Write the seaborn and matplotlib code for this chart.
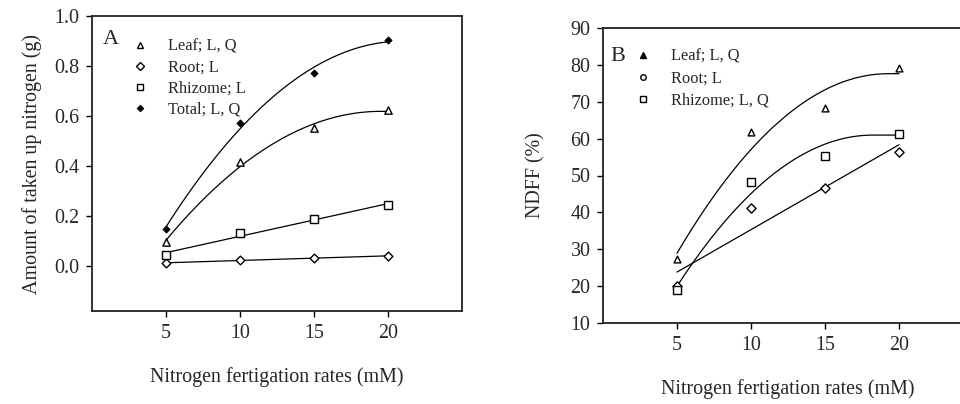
import numpy as np
import pandas as pd
import matplotlib
matplotlib.use("Agg")
import matplotlib.pyplot as plt
from matplotlib.lines import Line2D
import seaborn as sns

sns.set_theme(style="white")
plt.rcParams["font.family"] = ["Liberation Serif", "DejaVu Serif"]

# Nitrogen fertigation rates (mM)
rates = [5, 10, 15, 20]

# Panel A: amount of taken up nitrogen (g)
a_leaf = [0.097, 0.415, 0.551, 0.624]
a_root = [0.011, 0.024, 0.033, 0.039]
a_rhizome = [0.044, 0.131, 0.188, 0.243]
a_total = [0.149, 0.571, 0.773, 0.904]
a_labels = ["Leaf; L, Q", "Root; L", "Rhizome; L", "Total; L, Q"]

# Panel B: NDFF (%)
b_leaf = [27.3, 61.9, 68.4, 79.1]
b_root = [20.0, 41.1, 46.7, 56.5]
b_rhizome = [18.9, 48.3, 55.3, 61.3]
b_labels = ["Leaf; L, Q", "Root; L", "Rhizome; L, Q"]

a_yticks = [0.0, 0.2, 0.4, 0.6, 0.8, 1.0]
b_yticks = [10, 20, 30, 40, 50, 60, 70, 80, 90]

TICK_FS = 14.4
LEG_FS = 11.8


def fit_curve(x, y, deg, plateau=False, gap=None):
    """Polynomial regression drawn over 5-20 mM; optionally held at its maximum."""
    xs = np.linspace(min(x), max(x), 300)
    ys = np.polyval(np.polyfit(x, y, deg), xs)
    if plateau:
        ys = np.maximum.accumulate(ys)
    ys = ys.astype(float)
    if gap is not None:
        ys[(xs > gap[0]) & (xs < gap[1])] = np.nan
    return pd.DataFrame({"x": xs, "y": ys})


def style_axes(ax, ylim, yticks, ylabel, fmt, ylabelpad):
    ax.set_xlim(0, 25)
    ax.set_ylim(*ylim)
    ax.set_xticks(rates)
    ax.set_xticklabels([str(r) for r in rates], fontsize=TICK_FS)
    ax.set_yticks(yticks)
    ax.set_yticklabels([fmt(v) for v in yticks], fontsize=TICK_FS)
    ax.tick_params(axis="both", direction="out", length=4, width=1,
                   left=True, bottom=True, color="black", pad=5)
    for sp in ax.spines.values():
        sp.set_color("#222222")
        sp.set_linewidth(1.3)
        sp.set_visible(True)
    ax.set_xlabel("Nitrogen fertigation rates (mM)", fontsize=TICK_FS, labelpad=18)
    ax.set_ylabel(ylabel, fontsize=TICK_FS, labelpad=ylabelpad)
    ax.grid(False)


fig = plt.figure(figsize=(9.6, 4.04), dpi=100)
axA = fig.add_axes([92 / 960, 93 / 404, 370 / 960, 295 / 404])
axB = fig.add_axes([603 / 960, 81 / 404, 370 / 960, 295 / 404])

line_kw = dict(color="black", linewidth=0.9, legend=False)
open_kw = dict(facecolor="white", edgecolor="black", linewidth=1.0, legend=False, zorder=3)

# ---- Panel A ----
for y, deg in [(a_leaf, 2), (a_root, 1), (a_rhizome, 1), (a_total, 2)]:
    sns.lineplot(data=fit_curve(rates, y, deg, plateau=(deg == 2)), x="x", y="y", ax=axA, **line_kw)

sns.scatterplot(x=rates, y=a_leaf, marker="^", s=28, ax=axA, **open_kw)
sns.scatterplot(x=rates, y=a_root, marker="D", s=20, ax=axA, **open_kw)
sns.scatterplot(x=rates, y=a_rhizome, marker="s", s=26, ax=axA, **open_kw)
sns.scatterplot(x=rates, y=a_total, marker="D", s=14, color="black", edgecolor="black",
                linewidth=0.5, legend=False, zorder=3, ax=axA)

style_axes(axA, (-0.18, 1.0), a_yticks, "Amount of taken up nitrogen (g)",
           lambda v: f"{v:.1f}", ylabelpad=9)

handlesA = [
    Line2D([], [], ls="none", marker="^", ms=4.5, mfc="white", mec="black", mew=1.0),
    Line2D([], [], ls="none", marker="D", ms=4, mfc="white", mec="black", mew=1.0),
    Line2D([], [], ls="none", marker="s", ms=4.5, mfc="white", mec="black", mew=1.0),
    Line2D([], [], ls="none", marker="D", ms=3.5, mfc="black", mec="black", mew=0.5),
]
axA.legend(handlesA, a_labels, loc="upper left", bbox_to_anchor=(0.107, 0.923),
           frameon=False, fontsize=LEG_FS, handlelength=1.0, handletextpad=1.2,
           labelspacing=0.3, borderpad=0, borderaxespad=0)
axA.text(0.03, 0.92, "A", transform=axA.transAxes, fontsize=16, va="center", ha="left")

# ---- Panel B ----
sns.lineplot(data=fit_curve(rates, b_leaf, 2, plateau=True, gap=(11.5, 12.2)), x="x", y="y", ax=axB, **line_kw)
sns.lineplot(data=fit_curve(rates, b_root, 1), x="x", y="y", ax=axB, **line_kw)
sns.lineplot(data=fit_curve(rates, b_rhizome, 2, plateau=True), x="x", y="y", ax=axB, **line_kw)

sns.scatterplot(x=rates, y=b_leaf, marker="^", s=24, ax=axB, **open_kw)
sns.scatterplot(x=rates, y=b_root, marker="D", s=22, ax=axB, **open_kw)
sns.scatterplot(x=rates, y=b_rhizome, marker="s", s=30, ax=axB, **open_kw)

style_axes(axB, (10, 90), b_yticks, "NDFF (%)", lambda v: f"{v:d}", ylabelpad=18)

handlesB = [
    Line2D([], [], ls="none", marker="^", ms=4, mfc="black", mec="black", mew=1.0),
    Line2D([], [], ls="none", marker="o", ms=4, mfc="white", mec="black", mew=1.0),
    Line2D([], [], ls="none", marker="s", ms=4.5, mfc="white", mec="black", mew=1.0),
]
axB.legend(handlesB, b_labels, loc="upper left", bbox_to_anchor=(0.086, 0.93),
           frameon=False, fontsize=LEG_FS, handlelength=1.0, handletextpad=1.2,
           labelspacing=0.37, borderpad=0, borderaxespad=0)
axB.text(0.019, 0.905, "B", transform=axB.transAxes, fontsize=16, va="center", ha="left")

fig.savefig("out.png", dpi=100)
